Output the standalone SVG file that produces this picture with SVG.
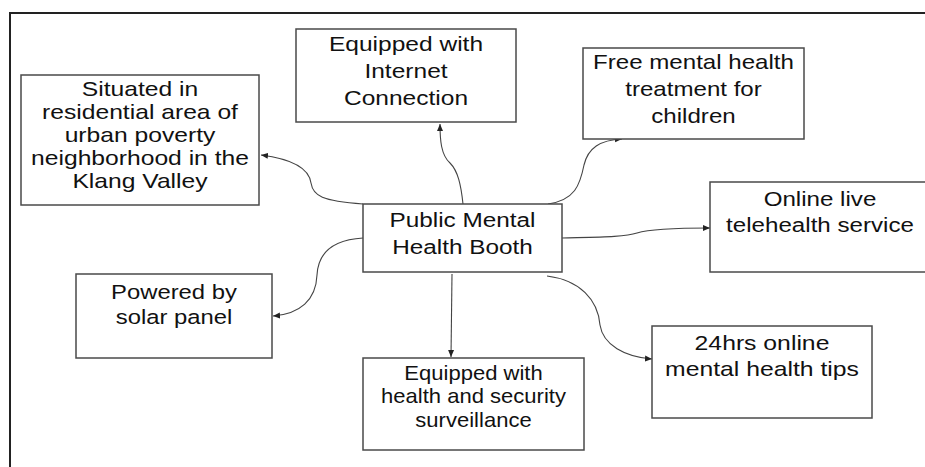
<svg xmlns="http://www.w3.org/2000/svg" width="925" height="467" viewBox="0 0 925 467">
<style>
.box{fill:#fff;stroke:#4a4a4a;stroke-width:1.5}
.t{font-family:"Liberation Sans",Arial,sans-serif;fill:#111;text-anchor:middle}
.c{fill:none;stroke:#444;stroke-width:1.1}
.frame{stroke:#222;stroke-width:2;fill:none}
</style>
<defs>
<marker id="ah" markerUnits="userSpaceOnUse" markerWidth="8" markerHeight="8" refX="7" refY="4" orient="auto">
<path d="M0,1 L7,4 L0,7 Z" fill="#222"/>
</marker>
</defs>
<rect width="925" height="467" fill="#fff"/>
<path class="frame" d="M10,467 L10,13 L925,13"/>

<g id="connectors">
<path class="c" marker-end="url(#ah)" d="M363,204 C322,201 313,196 311,183 C309,168 292,159 261,155"/>
<path class="c" marker-end="url(#ah)" d="M463,204 C461,185 458,171 450,163 C441,155 440,140 440,124"/>
<path class="c" marker-end="url(#ah)" d="M548,204 C575,200 580,185 584,165 C588,148 600,140 622,139"/>
<path class="c" marker-end="url(#ah)" d="M562,238 C600,237 625,237 637,233 C650,229 680,228 710,228"/>
<path class="c" marker-end="url(#ah)" d="M547,276 C580,280 598,300 600,325 C603,345 625,357 652,359"/>
<path class="c" marker-end="url(#ah)" d="M452,274 L451,357"/>
<path class="c" marker-end="url(#ah)" d="M363,238 C330,240 318,255 317,275 C316,300 300,314 273,316"/>
</g>

<g id="situated">
<rect class="box" x="21" y="75" width="238" height="130"/>
<g transform="translate(140,0) scale(1.233,1)">
<text class="t" font-size="20"><tspan x="0" y="96">Situated in</tspan><tspan x="0" y="119.1">residential area of</tspan><tspan x="0" y="142.2">urban poverty</tspan><tspan x="0" y="165.3">neighborhood in the</tspan><tspan x="0" y="188.4">Klang Valley</tspan></text>
</g>
</g>

<g id="internet">
<rect class="box" x="296" y="29" width="220" height="93"/>
<g transform="translate(406,0) scale(1.168,1)">
<text class="t" font-size="21"><tspan x="0" y="51.5">Equipped with</tspan><tspan x="0" y="78.5">Internet</tspan><tspan x="0" y="105.5">Connection</tspan></text>
</g>
</g>

<g id="free">
<rect class="box" x="583" y="48" width="221" height="91"/>
<g transform="translate(693.5,0) scale(1.176,1)">
<text class="t" font-size="20.5"><tspan x="0" y="69.5">Free mental health</tspan><tspan x="0" y="96.5">treatment for</tspan><tspan x="0" y="123">children</tspan></text>
</g>
</g>

<g id="online">
<rect class="box" x="710" y="182" width="230" height="90"/>
<g transform="translate(820,0) scale(1.15,1)">
<text class="t" font-size="21"><tspan x="0" y="205.7">Online live</tspan><tspan x="0" y="231.7">telehealth service</tspan></text>
</g>
</g>

<g id="booth">
<rect class="box" x="363" y="204" width="199" height="68"/>
<g transform="translate(462.5,0) scale(1.159,1)">
<text class="t" font-size="21"><tspan x="0" y="226.7">Public Mental</tspan><tspan x="0" y="254">Health Booth</tspan></text>
</g>
</g>

<g id="solar">
<rect class="box" x="76" y="274" width="196" height="84"/>
<g transform="translate(174,0) scale(1.162,1)">
<text class="t" font-size="20.5"><tspan x="0" y="299.3">Powered by</tspan><tspan x="0" y="324.3">solar panel</tspan></text>
</g>
</g>

<g id="surveillance">
<rect class="box" x="363" y="358" width="221" height="92"/>
<g transform="translate(473.5,0) scale(1.102,1)">
<text class="t" font-size="20"><tspan x="0" y="380">Equipped with</tspan><tspan x="0" y="403.3">health and security</tspan><tspan x="0" y="426.7">surveillance</tspan></text>
</g>
</g>

<g id="tips">
<rect class="box" x="652" y="326" width="220" height="92"/>
<g transform="translate(762,0) scale(1.179,1)">
<text class="t" font-size="21"><tspan x="0" y="350">24hrs online</tspan><tspan x="0" y="375.7">mental health tips</tspan></text>
</g>
</g>
</svg>
